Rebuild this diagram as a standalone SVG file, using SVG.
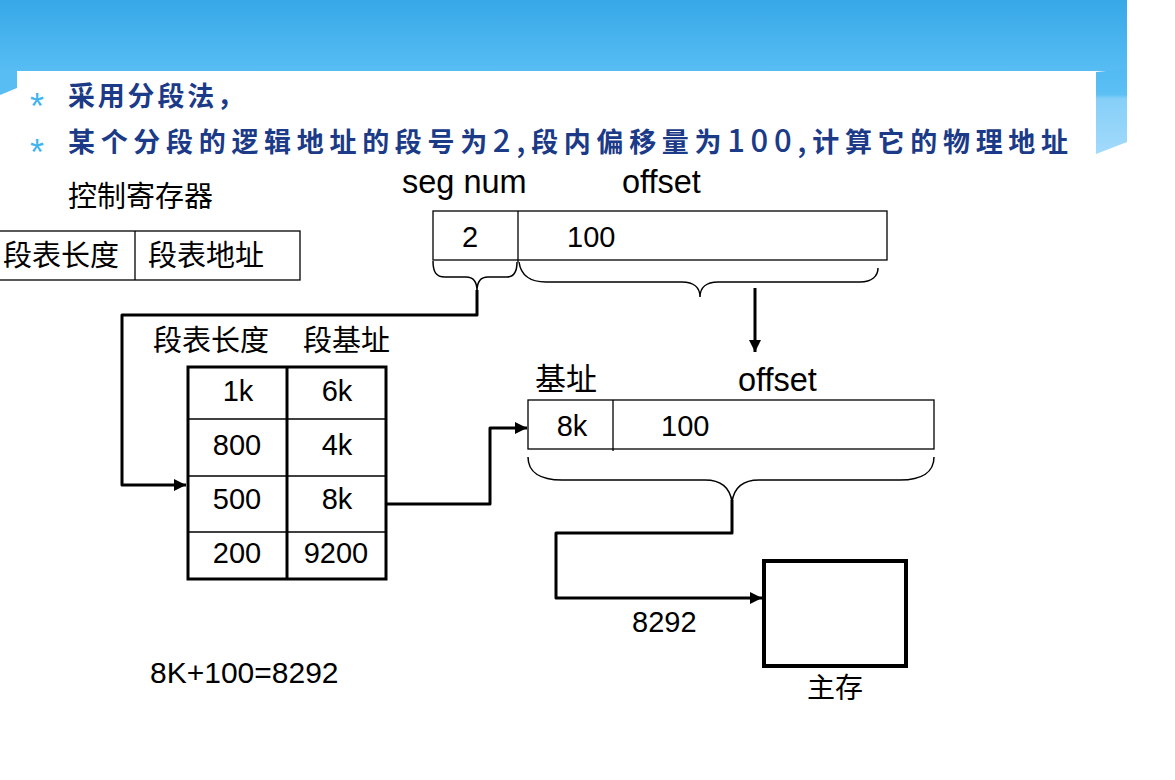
<svg xmlns="http://www.w3.org/2000/svg" width="1175" height="780" viewBox="0 0 1175 780">
<defs>
<linearGradient id="bannerGrad" x1="0" y1="0" x2="0" y2="1">
<stop offset="0" stop-color="#37a8e8"/>
<stop offset="1" stop-color="#57bdf3"/>
</linearGradient>
<linearGradient id="sliverGrad" x1="0" y1="0" x2="0" y2="1">
<stop offset="0" stop-color="#52baf2"/>
<stop offset="0.3" stop-color="#5cc0f4"/>
<stop offset="0.35" stop-color="#86cff8"/>
<stop offset="1" stop-color="#a2dafb"/>
</linearGradient>
<marker id="arrow" viewBox="0 0 10 10" refX="10" refY="5" markerWidth="4" markerHeight="4" orient="auto" markerUnits="strokeWidth">
<path d="M0,0 L10,5 L0,10 z" fill="#000"/>
</marker>
<style>
.bullet{font-family:"Liberation Sans",Arial,sans-serif;font-size:36px;fill:#3fb4ef;}
.btext{font-family:"Noto Sans CJK SC",sans-serif;font-size:27px;font-weight:700;fill:#1b3a87;}
.num{font-size:31px;font-weight:500;}
.cjk{font-family:"Noto Sans CJK SC",sans-serif;font-size:29px;fill:#000;}
.lat{font-family:"Liberation Sans",Arial,sans-serif;font-size:29px;fill:#000;}
.lbl{font-family:"Liberation Sans",Arial,sans-serif;font-size:32.5px;fill:#000;}
.thin{fill:none;stroke:#000;stroke-width:1.3;}
.brace{fill:none;stroke:#000;stroke-width:1.5;}
.thick{fill:none;stroke:#000;stroke-width:3;}
.conn{fill:none;stroke:#000;stroke-width:3;stroke-linejoin:round;}
</style>
</defs>
<g id="background">
<rect x="0" y="0" width="1175" height="780" fill="#fff"/>
<rect x="0" y="0" width="1127" height="71" fill="url(#bannerGrad)"/>
<polygon points="0,70 17,70 17,88 0,95" fill="#57bdf3"/>
<polygon points="1096,72 1127,69 1127,142 1096,154" fill="url(#sliverGrad)"/>
</g>
<g id="bullets">
<text class="bullet" x="30" y="119">*</text>
<text class="btext" x="68" y="106" textLength="176" lengthAdjust="spacing">采用分段法，</text>
<text class="bullet" x="30" y="165">*</text>
<text class="btext" x="68" y="152" textLength="1000" lengthAdjust="spacing">某个分段的逻辑地址的段号为<tspan class="num">2,</tspan>段内偏移量为<tspan class="num">100,</tspan>计算它的物理地址</text>
</g>
<g id="control-register">
<text class="cjk" x="68" y="207">控制寄存器</text>
<rect class="thin" x="-1" y="231" width="301" height="49"/>
<line class="thin" x1="135" y1="231" x2="135" y2="280"/>
<text class="cjk" x="3" y="266">段表长度</text>
<text class="cjk" x="148" y="266">段表地址</text>
</g>
<g id="logical-address">
<text class="lbl" x="402" y="193">seg num</text>
<text class="lbl" x="622" y="193">offset</text>
<rect class="thin" x="433" y="211" width="454" height="49"/>
<line class="thin" x1="518" y1="211" x2="518" y2="262"/>
<text class="lat" x="470" y="247" text-anchor="middle">2</text>
<text class="lat" x="567" y="247">100</text>
<path class="brace" d="M433,261 C433,272 436,277 445,277 L466,277 C473,277 477,282 477,291 C477,282 481,277 488,277 L507,277 C514,277 517,272 517,262"/>
<path class="brace" d="M519,262 C521,276 531,282 546,282 L682,282 C694,282 700,288 700,297 C700,288 706,282 718,282 L860,282 C872,282 878,276 878,268"/>
</g>
<g id="segment-table">
<text class="cjk" x="153" y="351">段表长度</text>
<text class="cjk" x="303" y="351">段基址</text>
<rect class="thick" x="188" y="367" width="198" height="212"/>
<line class="thick" x1="287" y1="367" x2="287" y2="579"/>
<line class="thin" x1="188" y1="419" x2="386" y2="419"/>
<line class="thin" x1="188" y1="476" x2="386" y2="476"/>
<line class="thin" x1="188" y1="532" x2="386" y2="532"/>
<text class="lat" x="238" y="401" text-anchor="middle">1k</text>
<text class="lat" x="337" y="401" text-anchor="middle">6k</text>
<text class="lat" x="237" y="455" text-anchor="middle">800</text>
<text class="lat" x="337" y="455" text-anchor="middle">4k</text>
<text class="lat" x="237" y="509" text-anchor="middle">500</text>
<text class="lat" x="337" y="509" text-anchor="middle">8k</text>
<text class="lat" x="237" y="563" text-anchor="middle">200</text>
<text class="lat" x="336" y="563" text-anchor="middle">9200</text>
</g>
<g id="physical-address">
<text class="cjk" x="535" y="390" style="font-size:31px">基址</text>
<text class="lbl" x="738" y="391">offset</text>
<rect class="thin" x="528" y="400" width="406" height="49"/>
<line class="thin" x1="613" y1="400" x2="613" y2="451"/>
<text class="lat" x="572" y="436" text-anchor="middle">8k</text>
<text class="lat" x="661" y="436">100</text>
<path class="brace" d="M528,457 C528,472 540,480 562,480 L705,480 C722,480 730,488 732,502 C734,488 742,480 759,480 L900,480 C922,480 934,472 934,457"/>
</g>
<g id="main-memory">
<rect x="764" y="561" width="142" height="105" fill="none" stroke="#000" stroke-width="4"/>
<text class="cjk" x="807" y="698" style="font-size:28px">主存</text>
</g>
<g id="connectors">
<polyline class="conn" points="477,290 477,315 122,315 122,485 186,485" marker-end="url(#arrow)"/>
<line class="conn" x1="755" y1="288" x2="755" y2="352" marker-end="url(#arrow)"/>
<polyline class="conn" points="387,504 490,504 490,428 527,428" marker-end="url(#arrow)"/>
<polyline class="conn" points="732,500 732,533 556,533 556,598 762,598" marker-end="url(#arrow)"/>
</g>
<g id="labels">
<text class="lat" x="632" y="632">8292</text>
<text class="lat" x="150" y="683" style="font-size:30px">8K+100=8292</text>
</g>
</svg>
